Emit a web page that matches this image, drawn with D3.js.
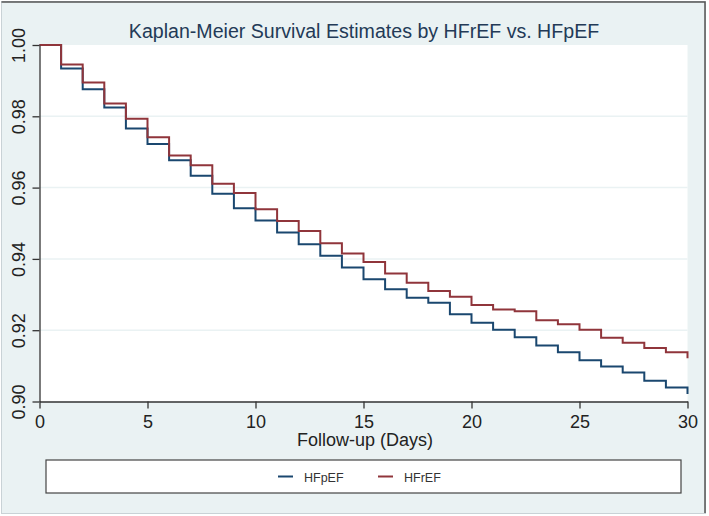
<!DOCTYPE html>
<html>
<head>
<meta charset="utf-8">
<script src="https://cdn.jsdelivr.net/npm/d3@7"></script>
<style>
  body { margin: 0; background: #fff; }
  svg { display: block; font-family: "Liberation Sans", Arial, sans-serif; }
</style>
</head>
<body>
<svg id="chart" width="709" height="516"></svg>
<script>
// survival estimate at the end of each day (day 0..30)
const days = d3.range(0, 31);
const hfpef = [1.000, 0.9934, 0.9876, 0.9825, 0.9766, 0.9722, 0.9677, 0.9633, 0.9583, 0.9542,
               0.9508, 0.9474, 0.9441, 0.9409, 0.9376, 0.9343, 0.9315, 0.9291, 0.9277, 0.9245,
               0.9221, 0.9201, 0.9180, 0.9157, 0.9138, 0.9116, 0.9098, 0.9081, 0.9058, 0.9039, 0.9021];
const hfref = [1.000, 0.9945, 0.9895, 0.9836, 0.9793, 0.9741, 0.9690, 0.9663, 0.9611, 0.9585,
               0.9539, 0.9506, 0.9478, 0.9444, 0.9415, 0.9391, 0.9359, 0.9333, 0.9310, 0.9294,
               0.9271, 0.9258, 0.9253, 0.9228, 0.9217, 0.9201, 0.9179, 0.9165, 0.9150, 0.9138, 0.9121];
const xTicks = [0, 5, 10, 15, 20, 25, 30];
const yTicks = [0.90, 0.92, 0.94, 0.96, 0.98, 1.00];
const series = [
    { name: "HFpEF", values: hfpef, color: "#1a476f" },
    { name: "HFrEF", values: hfref, color: "#90353b" }
];

const svg = d3.select("#chart");
const bg = "#eaf2f3";

// outer frame
svg.append("rect")
    .attr("x", 1.5).attr("y", 1.5)
    .attr("width", 704).attr("height", 512)
    .attr("fill", bg)
    .attr("stroke", "#c9d2d6")
    .attr("stroke-width", 1);
svg.append("path")
    .attr("d", "M1.5,2 H705 V513")
    .attr("fill", "none")
    .attr("stroke", "#555")
    .attr("stroke-width", 1.5);

const x = d3.scaleLinear().domain([0, 30]).range([39.5, 687.5]);
const y = d3.scaleLinear().domain([0.90, 1.00]).range([401.5, 45]);

// plot region
svg.append("rect")
    .attr("x", x(0)).attr("y", y(1))
    .attr("width", x(30) - x(0)).attr("height", y(0.9) - y(1))
    .attr("fill", "#fff");

// gridlines
svg.append("g")
    .selectAll("line")
    .data(yTicks.filter(d => d > 0.9 && d < 1))
    .join("line")
    .attr("x1", x(0)).attr("x2", x(30))
    .attr("y1", d => y(d)).attr("y2", d => y(d))
    .attr("stroke", bg)
    .attr("stroke-width", 1.5);

// survival curves
const line = d3.line()
    .x((d, i) => x(days[i]))
    .y(d => y(d))
    .curve(d3.curveStepAfter);

series.forEach(s => {
    svg.append("path")
        .attr("d", line(s.values))
        .attr("fill", "none")
        .attr("stroke", s.color)
        .attr("stroke-width", 2);
});

// axes
const xAxis = svg.append("g")
    .attr("transform", `translate(0,${y(0.9)})`)
    .call(d3.axisBottom(x).tickValues(xTicks).tickSize(7).tickSizeOuter(0).tickPadding(6.5));
xAxis.selectAll("text").attr("font-size", 18).attr("fill", "#222");

const yAxis = svg.append("g")
    .attr("transform", `translate(${x(0)},0)`)
    .call(d3.axisLeft(y).tickValues(yTicks).tickFormat(d3.format(".2f")).tickSize(7).tickSizeOuter(0));
yAxis.selectAll("text")
    .attr("font-size", 18)
    .attr("fill", "#222")
    .attr("x", 0).attr("dy", 0)
    .attr("text-anchor", "middle")
    .attr("transform", "translate(-14.5,0) rotate(-90)");

svg.selectAll(".domain, .tick line").attr("stroke", "#333").attr("stroke-width", 1.3);

// title and axis label
svg.append("text")
    .attr("x", 364).attr("y", 38)
    .attr("text-anchor", "middle")
    .attr("font-size", 19.6)
    .attr("fill", "#233a57")
    .text("Kaplan-Meier Survival Estimates by HFrEF vs. HFpEF");

svg.append("text")
    .attr("x", 365).attr("y", 446)
    .attr("text-anchor", "middle")
    .attr("font-size", 18)
    .attr("fill", "#222")
    .text("Follow-up (Days)");

// legend
svg.append("rect")
    .attr("x", 46).attr("y", 460)
    .attr("width", 635).attr("height", 33)
    .attr("fill", "#fff")
    .attr("stroke", "#444")
    .attr("stroke-width", 1.2);

const legendX = [278, 378];
series.forEach((s, i) => {
    svg.append("line")
        .attr("x1", legendX[i]).attr("x2", legendX[i] + 15)
        .attr("y1", 476.5).attr("y2", 476.5)
        .attr("stroke", s.color)
        .attr("stroke-width", 2);
    svg.append("text")
        .attr("x", legendX[i] + 26).attr("y", 481.5)
        .attr("font-size", 12.5)
        .attr("fill", "#333")
        .text(s.name);
});
</script>
</body>
</html>
